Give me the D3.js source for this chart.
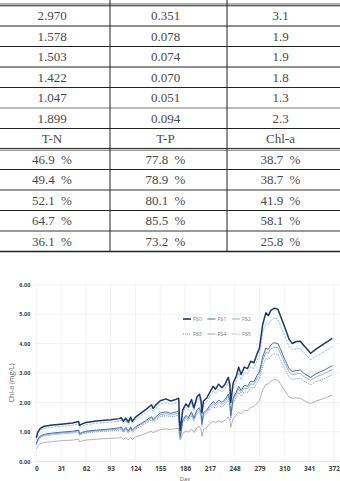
<!DOCTYPE html>
<html>
<head>
<meta charset="utf-8">
<script src="https://cdn.jsdelivr.net/npm/d3@7"></script>
<style>
  body { margin: 0; background: #fff; }
  svg { display: block; }
</style>
</head>
<body>
<svg id="fig"></svg>
<script>
// table values (top part of the figure)
const headers = ["T-N", "T-P", "Chl-a"];
const tnConc  = ["2.970", "1.578", "1.503", "1.422", "1.047", "1.899"];
const tpConc  = ["0.351", "0.078", "0.074", "0.070", "0.051", "0.094"];
const chlConc = ["3.1", "1.9", "1.9", "1.8", "1.3", "2.3"];
const tnRate  = ["46.9 %", "49.4 %", "52.1 %", "64.7 %", "36.1 %"];
const tpRate  = ["77.8 %", "78.9 %", "80.1 %", "85.5 %", "73.2 %"];
const chlRate = ["38.7 %", "38.7 %", "41.9 %", "58.1 %", "25.8 %"];

// chart values
const xTicks = [0, 31, 62, 93, 124, 155, 186, 217, 248, 279, 310, 341, 372];
const yTicks = [0, 1, 2, 3, 4, 5, 6];
const seriesNames = ["FS0", "FS1", "FS2", "FS3", "FS4", "FS5"];

const days = [0,2,5,10,20,31,45,53,54,58,62,75,93,104,106,109,112,115,118,120,
  124,130,138,144,146,149,155,162,168,172,178,179,180,183,187,190,194,197,201,204,
  206,207,209,213,217,221,224,228,232,236,240,242,243,246,250,253,256,260,264,268,
  272,276,279,283,287,290,293,297,302,305,310,316,320,325,330,335,343,350,360,370];

const fs0 = [0.80,1.00,1.12,1.19,1.23,1.26,1.30,1.35,1.22,1.28,1.32,1.37,1.41,1.45,1.48,1.36,1.47,1.33,1.50,1.36,
  1.50,1.62,1.78,1.92,1.80,1.90,2.06,2.12,2.05,2.08,2.14,1.40,1.05,1.75,1.95,1.85,2.10,1.82,2.20,2.28,
  2.05,1.65,2.05,2.15,2.35,2.55,2.45,2.62,2.50,2.62,2.85,2.60,2.00,2.65,2.90,3.20,2.95,3.20,3.15,3.40,
  3.35,3.65,3.85,4.65,5.05,4.95,5.12,5.20,5.17,4.95,4.60,4.15,4.00,4.07,4.08,3.92,3.67,3.82,4.00,4.18];

const fs1 = [0.60,0.75,0.86,0.92,0.96,0.99,1.02,1.06,0.94,0.99,1.02,1.06,1.10,1.14,1.17,1.05,1.15,1.03,1.17,1.06,
  1.17,1.27,1.40,1.52,1.42,1.50,1.64,1.68,1.63,1.66,1.70,1.12,0.85,1.40,1.56,1.48,1.68,1.47,1.76,1.82,
  1.65,1.28,1.65,1.74,1.90,2.03,1.96,2.08,2.00,2.10,2.28,2.08,1.55,2.15,2.35,2.55,2.40,2.58,2.55,2.72,
  2.70,2.92,3.05,3.55,3.85,3.80,3.95,4.03,4.00,3.82,3.50,3.15,3.05,3.08,3.10,2.98,2.85,2.98,3.10,3.25];

const fs2 = [0.58,0.72,0.83,0.89,0.93,0.96,0.99,1.03,0.91,0.96,0.99,1.03,1.07,1.10,1.13,1.01,1.11,0.99,1.13,1.02,
  1.13,1.23,1.35,1.47,1.37,1.45,1.58,1.62,1.57,1.60,1.64,1.08,0.82,1.35,1.50,1.43,1.62,1.42,1.70,1.76,
  1.59,1.23,1.59,1.68,1.83,1.96,1.89,2.01,1.93,2.03,2.20,2.01,1.49,2.08,2.27,2.46,2.32,2.49,2.46,2.63,
  2.61,2.82,2.94,3.42,3.71,3.66,3.81,3.88,3.86,3.68,3.37,3.03,2.94,2.97,2.99,2.87,2.75,2.87,2.98,3.12];

const fs3 = [0.56,0.70,0.80,0.86,0.90,0.93,0.96,1.00,0.88,0.93,0.96,1.00,1.03,1.06,1.09,0.98,1.07,0.96,1.09,0.99,
  1.09,1.18,1.30,1.41,1.32,1.39,1.52,1.55,1.51,1.53,1.57,1.04,0.79,1.30,1.44,1.37,1.55,1.36,1.63,1.68,
  1.52,1.18,1.52,1.61,1.75,1.87,1.80,1.92,1.84,1.94,2.10,1.92,1.42,1.98,2.16,2.34,2.21,2.37,2.34,2.50,
  2.48,2.68,2.80,3.24,3.50,3.45,3.58,3.65,3.63,3.47,3.18,2.86,2.78,2.80,2.82,2.71,2.60,2.71,2.81,2.94];

const fs4 = [0.42,0.53,0.60,0.64,0.67,0.70,0.72,0.75,0.66,0.70,0.72,0.75,0.78,0.80,0.82,0.74,0.81,0.72,0.82,0.74,
  0.82,0.88,0.96,1.03,0.97,1.02,1.08,1.10,1.08,1.10,1.12,0.80,0.72,0.95,1.03,0.99,1.10,0.98,1.15,1.18,
  1.08,0.85,1.08,1.15,1.28,1.36,1.31,1.38,1.33,1.40,1.50,1.38,1.15,1.45,1.58,1.68,1.62,1.72,1.72,1.84,
  1.85,1.98,2.06,2.42,2.62,2.62,2.72,2.78,2.76,2.64,2.42,2.18,2.14,2.15,2.14,2.06,1.96,2.05,2.14,2.25];

const fs5 = [0.74,0.93,1.05,1.12,1.16,1.19,1.22,1.27,1.15,1.21,1.24,1.29,1.33,1.37,1.40,1.28,1.39,1.25,1.41,1.28,
  1.42,1.52,1.67,1.80,1.69,1.78,1.94,1.99,1.93,1.96,2.01,1.32,0.99,1.64,1.83,1.74,1.97,1.71,2.07,2.14,
  1.93,1.55,1.93,2.02,2.21,2.40,2.30,2.46,2.35,2.46,2.68,2.44,1.88,2.49,2.73,3.01,2.77,3.01,2.96,3.20,
  3.15,3.43,3.62,4.37,4.72,4.65,4.78,4.86,4.84,4.63,4.30,3.90,3.78,3.82,3.84,3.68,3.45,3.58,3.73,3.90];

const W = 340, H = 481;
const svg = d3.select("#fig").attr("width", W).attr("height", H);

// ---------- table ----------
const colEdges = [0, 110, 227, 340];
const rowY = d3.scaleLinear().domain([0, 12]).range([5.5, 251.5]);
const tableRows = [];
for (let i = 0; i < tnConc.length; i++) tableRows.push([tnConc[i], tpConc[i], chlConc[i]]);
tableRows.push(headers);
for (let i = 0; i < tnRate.length; i++) tableRows.push([tnRate[i], tpRate[i], chlRate[i]]);

const table = svg.append("g");
const colMid = [0, 1, 2].map(c => (colEdges[c] + colEdges[c + 1]) / 2);

tableRows.forEach((row, r) => {
  table.selectAll(null)
    .data(row)
    .enter().append("text")
    .attr("x", (d, c) => colMid[c] - 3)
    .attr("y", (rowY(r) + rowY(r + 1)) / 2 + 4.5)
    .attr("text-anchor", "middle")
    .style("font-family", "'Liberation Serif', 'DejaVu Serif', serif")
    .style("font-size", "13px")
    .style("word-spacing", "3px")
    .style("fill", "#4a4a4a")
    .text(d => d);
});

// horizontal rules
for (let r = 1; r < 12; r++) {
  if (r === 7) continue;
  table.append("line")
    .attr("x1", 0).attr("x2", W)
    .attr("y1", rowY(r)).attr("y2", rowY(r))
    .attr("stroke", (r === 5 || r === 9 || r === 11) ? "#777" : "#222")
    .attr("stroke-width", (r === 9 || r === 11) ? 1.4 : 1);
}
// double rules at top and below header row
table.append("line").attr("x1", 0).attr("x2", W).attr("y1", 4).attr("y2", 4)
  .attr("stroke", "#999").attr("stroke-width", 1.5);
table.append("line").attr("x1", 0).attr("x2", W).attr("y1", 5.8).attr("y2", 5.8)
  .attr("stroke", "#222").attr("stroke-width", 1);
table.append("line").attr("x1", 0).attr("x2", W).attr("y1", rowY(7) - 0.6).attr("y2", rowY(7) - 0.6)
  .attr("stroke", "#222").attr("stroke-width", 1);
table.append("line").attr("x1", 0).attr("x2", W).attr("y1", rowY(7) + 1.2).attr("y2", rowY(7) + 1.2)
  .attr("stroke", "#999").attr("stroke-width", 1.6);
table.append("line").attr("x1", 0).attr("x2", W).attr("y1", rowY(12)).attr("y2", rowY(12))
  .attr("stroke", "#222").attr("stroke-width", 1.3);
// column rules
[colEdges[1], colEdges[2]].forEach(x => {
  table.append("line")
    .attr("x1", x).attr("x2", x)
    .attr("y1", 0).attr("y2", rowY(12))
    .attr("stroke", "#222").attr("stroke-width", 1);
});

// ---------- chart ----------
const x = d3.scaleLinear().domain([0, 372]).range([36.3, 333.9]);
const y = d3.scaleLinear().domain([0, 6]).range([461.3, 284.7]);

const chart = svg.append("g");

// gridlines
chart.append("g")
  .selectAll("line")
  .data(yTicks)
  .enter().append("line")
  .attr("x1", x(0)).attr("x2", W)
  .attr("y1", d => y(d)).attr("y2", d => y(d))
  .attr("stroke", d => d === 0 ? "#d9d9d9" : "#efefef")
  .attr("stroke-width", 0.8);
chart.append("g")
  .selectAll("line")
  .data(xTicks)
  .enter().append("line")
  .attr("x1", d => x(d)).attr("x2", d => x(d))
  .attr("y1", y(6)).attr("y2", y(0))
  .attr("stroke", "#efefef")
  .attr("stroke-width", 0.8);

// axes
const xAxis = d3.axisBottom(x).tickValues(xTicks).tickSize(0).tickPadding(5);
const yAxis = d3.axisLeft(y).tickValues(yTicks).tickSize(0).tickPadding(6)
  .tickFormat(d3.format(".2f"));

chart.append("g")
  .attr("transform", `translate(0,${y(0)})`)
  .call(xAxis)
  .call(g => g.select(".domain").remove())
  .selectAll("text")
  .style("font-family", "'Open Sans', sans-serif")
  .style("font-weight", "bold")
  .style("font-size", "6.5px")
  .style("fill", "#404040");

chart.append("g")
  .attr("transform", `translate(${x(0)},0)`)
  .call(yAxis)
  .call(g => g.select(".domain").remove())
  .selectAll("text")
  .style("font-family", "'Open Sans', sans-serif")
  .style("font-weight", "bold")
  .style("font-size", "5.5px")
  .style("fill", "#404040");

chart.append("text")
  .attr("transform", `translate(14,${(y(0) + y(6)) / 2 + 10}) rotate(-90)`)
  .attr("text-anchor", "middle")
  .style("font-family", "'Open Sans', sans-serif")
  .style("font-size", "7px")
  .style("fill", "#666")
  .text("Chl-a (mg/L)");

chart.append("text")
  .attr("x", 185).attr("y", 480.5)
  .attr("text-anchor", "middle")
  .style("font-family", "'Open Sans', sans-serif")
  .style("font-size", "6px")
  .style("fill", "#666")
  .text("Day");

// lines
const seriesValues = [fs0, fs1, fs2, fs3, fs4, fs5];
const colors = ["#1f3864", "#4a6fa5", "#8fb6d9", "#6f87a6", "#a0a0a0", "#9dc3e6"];
const widths = [1.5, 1, 1, 0.9, 0.8, 1];
const dashes = [null, null, null, "1,1", null, "2.5,1"];

const line = d3.line()
  .x((d, i) => x(days[i]))
  .y(d => y(d));

const drawOrder = [4, 3, 2, 1, 5, 0];
chart.append("g")
  .selectAll("path")
  .data(drawOrder)
  .enter().append("path")
  .attr("d", k => line(seriesValues[k]))
  .attr("fill", "none")
  .attr("stroke", k => colors[k])
  .attr("stroke-width", k => widths[k])
  .attr("stroke-dasharray", k => dashes[k])
  .attr("stroke-linejoin", "round");

// legend
const legX = [183, 207.5, 232];
const legY = [319, 334];
const legend = chart.append("g")
  .selectAll("g")
  .data(seriesNames)
  .enter().append("g")
  .attr("transform", (d, i) => `translate(${legX[i % 3]},${legY[Math.floor(i / 3)]})`);
legend.append("line")
  .attr("x1", 0).attr("x2", 8)
  .attr("stroke", (d, i) => colors[i])
  .attr("stroke-width", (d, i) => i === 0 ? 1.6 : 1)
  .attr("stroke-dasharray", (d, i) => dashes[i]);
legend.append("text")
  .attr("x", 10).attr("y", 2)
  .style("font-family", "'Open Sans', sans-serif")
  .style("font-size", "5.5px")
  .style("fill", "#7f7f7f")
  .text(d => d);
</script>
</body>
</html>
